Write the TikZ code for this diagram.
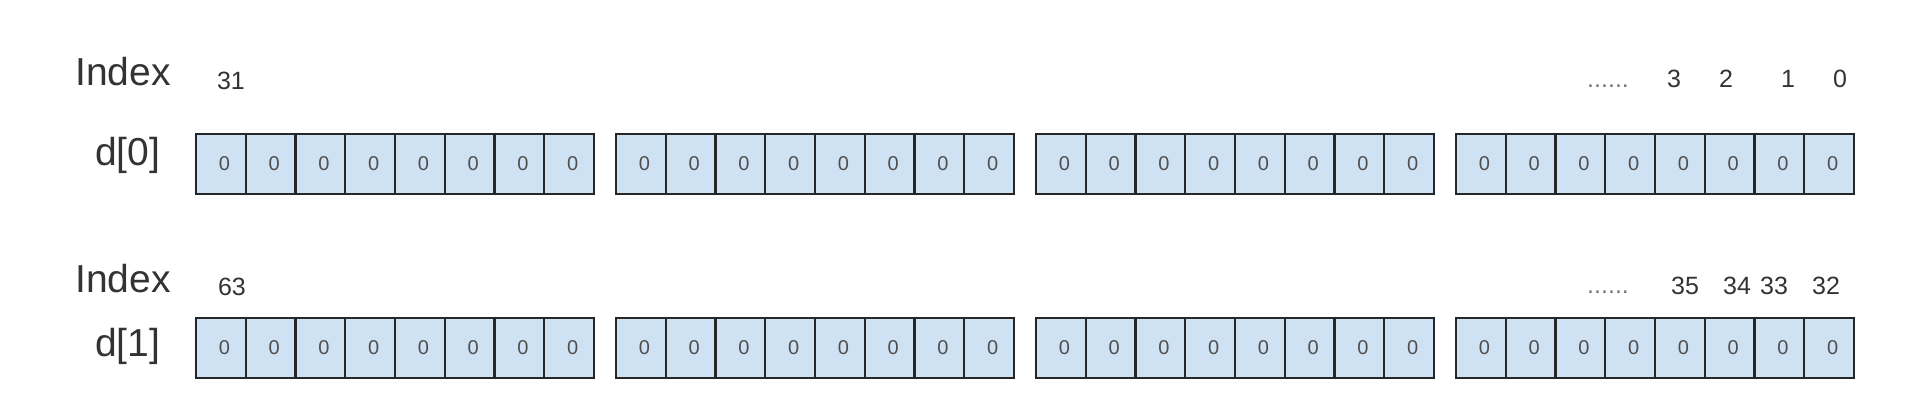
\documentclass[tikz,border=0pt]{standalone}
\usepackage{fontspec}
\setmainfont{Liberation Sans}
\definecolor{cellfill}{HTML}{CFE2F3}
\definecolor{cellline}{HTML}{262626}
\definecolor{celltext}{HTML}{4F4F4F}
\definecolor{labeltext}{HTML}{333333}
\definecolor{dottext}{HTML}{777777}
\begin{document}
\begin{tikzpicture}[x=1pt,y=-1pt,
  cell/.style={draw=cellline, fill=cellfill, line width=2.2pt, minimum width=49.75pt,
    minimum height=60pt, inner sep=0pt, outer sep=0pt, text=celltext,
    font=\fontsize{20}{22}\selectfont},
  rowlbl/.style={anchor=base west, font=\fontsize{39}{44}\selectfont, text=labeltext, inner sep=0pt},
  idx/.style={anchor=base, font=\fontsize{25}{28}\selectfont, text=labeltext, inner sep=0pt},
  dots/.style={anchor=base west, font=\fontsize{25}{28}\selectfont, text=dottext, inner sep=0pt}]
\useasboundingbox (0,0) rectangle (1920,412);

% row labels
\node[rowlbl] (idxA) at (75,85) {Index};
\node[rowlbl] (dA) at (95,165) {d[0]};
\node[rowlbl] (idxB) at (75,292) {Index};
\node[rowlbl] (dB) at (95,356) {d[1]};

% cells
\foreach \g in {0,1,2,3}{
  \foreach \i in {0,...,7}{
    \pgfmathtruncatemacro{\bit}{31-8*\g-\i}
    \pgfmathsetmacro{\cx}{196+420*\g+49.75*\i+24.875}
    \node[cell] (a\bit) at (\cx,164) {\raisebox{-3pt}{\hspace*{7pt}0}};
    \node[cell] (b\bit) at (\cx,348) {\raisebox{-3pt}{\hspace*{7pt}0}};
  }
}

% index labels, row d[0]
\node[idx] (i31) at (231,89) {31};
\node[dots] (dotsA) at (1587,88) {......};
\node[idx] (i3) at (1674,88) {3};
\node[idx] (i2) at (1726,88) {2};
\node[idx] (i1) at (1788,88) {1};
\node[idx] (i0) at (1840,88) {0};

% index labels, row d[1]
\node[idx] (i63) at (232,295) {63};
\node[dots] (dotsB) at (1587,293) {......};
\node[idx] (i35) at (1685,294) {35};
\node[idx] (i34) at (1737,294) {34};
\node[idx] (i33) at (1774,294) {33};
\node[idx] (i32) at (1826,294) {32};
\end{tikzpicture}
\end{document}
